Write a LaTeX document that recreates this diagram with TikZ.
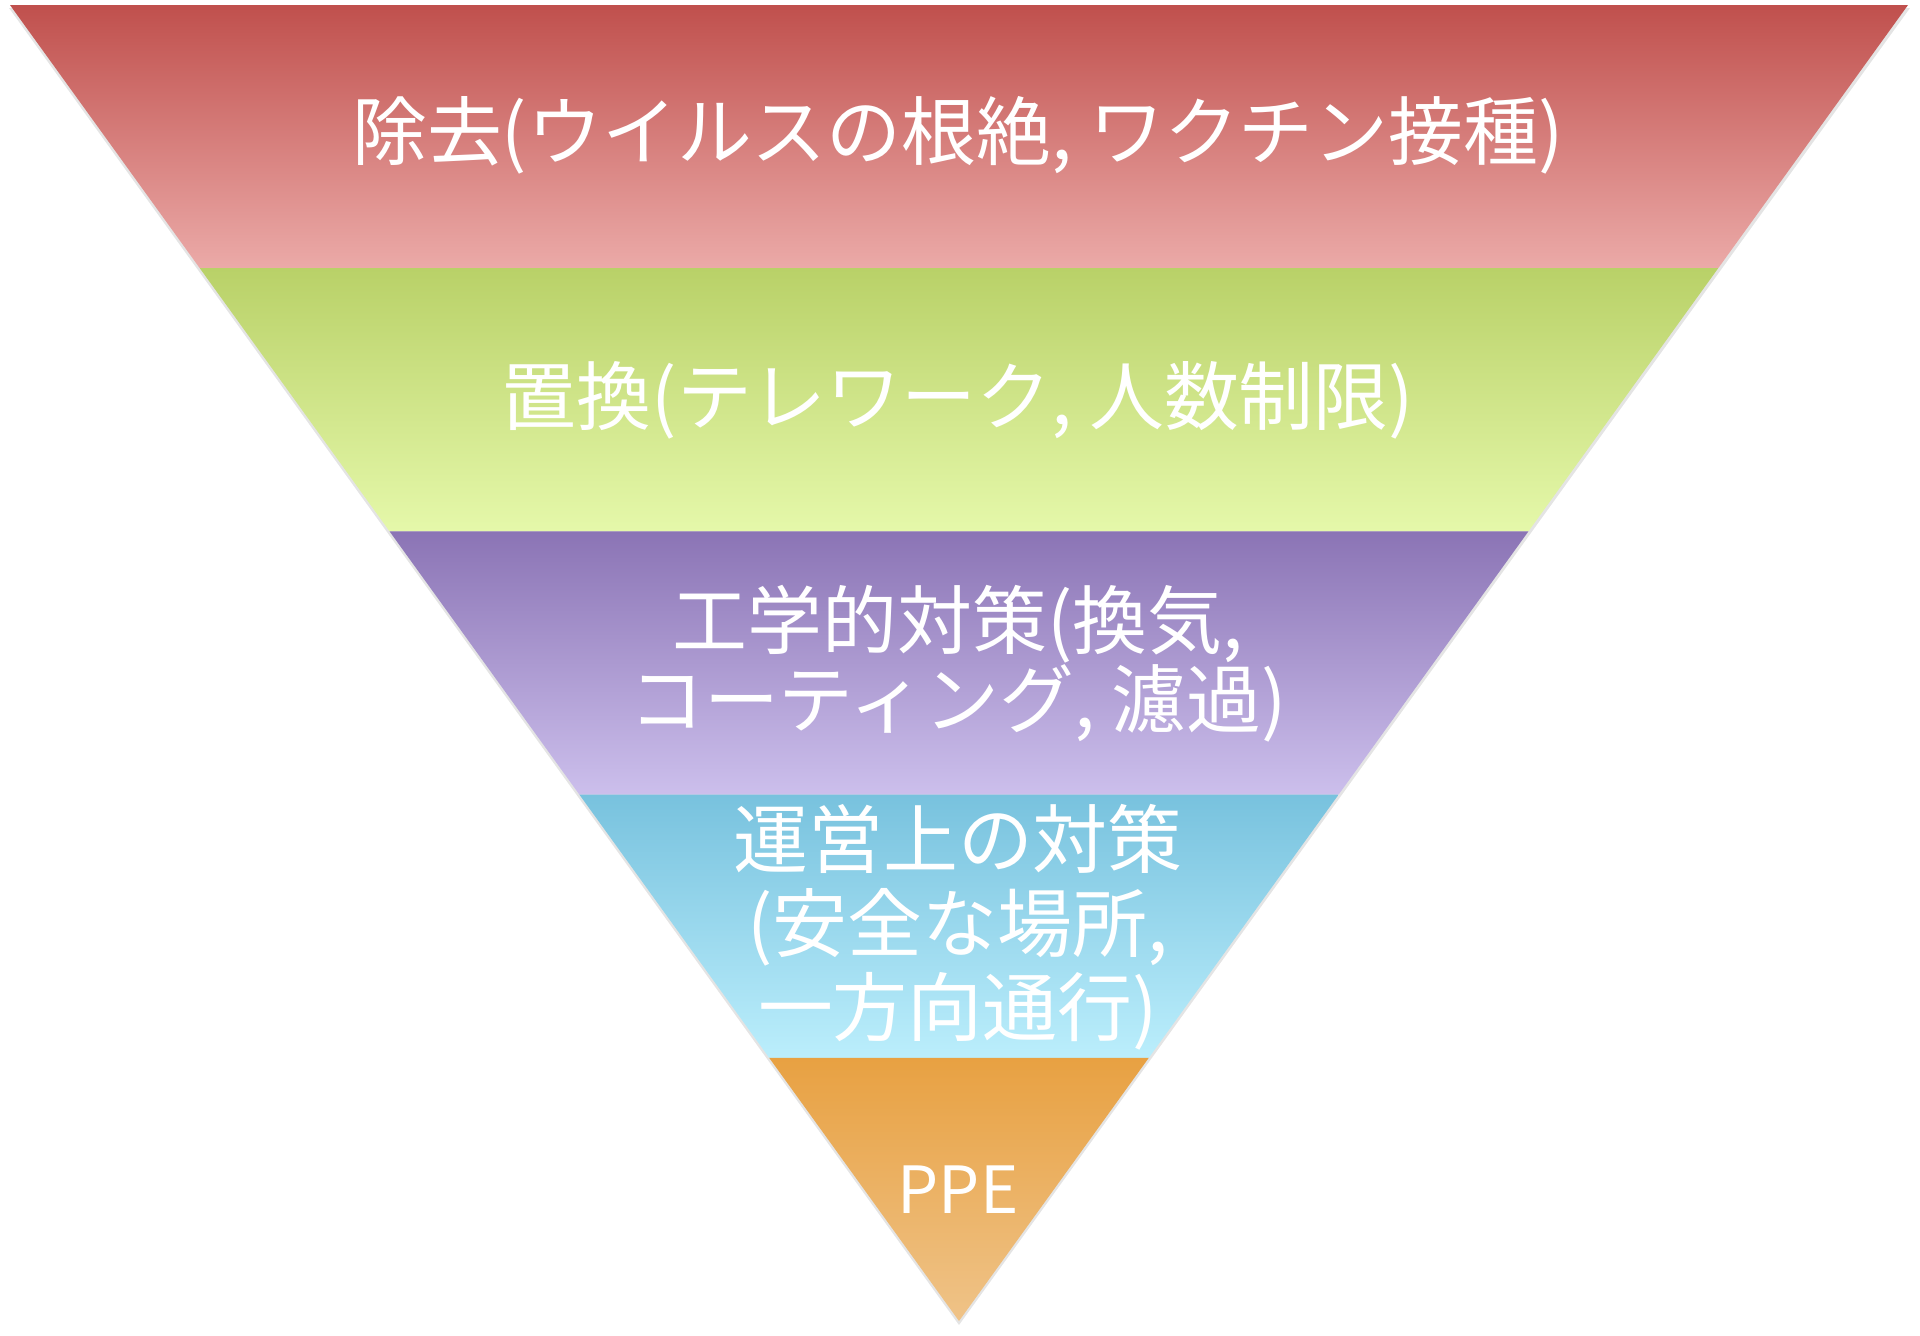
\documentclass[tikz,border=0pt]{standalone}
\usepackage{fontspec}
\setmainfont{Noto Sans CJK JP}
\usepackage{tikz}
\usetikzlibrary{calc}

\definecolor{redtop}{RGB}{192,80,77}
\definecolor{redbot}{RGB}{235,170,168}
\definecolor{greentop}{RGB}{185,209,104}
\definecolor{greenbot}{RGB}{229,248,170}
\definecolor{violettop}{RGB}{139,116,181}
\definecolor{violetbot}{RGB}{204,191,236}
\definecolor{bleutop}{RGB}{120,194,222}
\definecolor{bleubot}{RGB}{187,238,252}
\definecolor{orangetop}{RGB}{232,161,66}
\definecolor{orangebot}{RGB}{239,195,136}

\tikzset{
  bandtext/.style={text=white, align=center, font=\fontsize{21.3}{22.5}\selectfont},
}

\begin{document}
\begin{tikzpicture}[x=0.01cm, y=-0.01cm]
  % Cadre de la figure
  \useasboundingbox (0,0) rectangle (1920,1335);

  % Sommets du triangle
  \coordinate (tl) at (10,5);
  \coordinate (tr) at (1908,5);
  \coordinate (apex) at (959,1321);

  % Ombre portée
  \fill[black!30, opacity=0.35] ($(tl)+(-1,3)$) -- ($(tr)+(2,3)$) -- ($(apex)+(0,4)$) -- cycle;

  % Bandes en dégradé
  \foreach \i/\ctop/\cbot in {0/redtop/redbot, 1/greentop/greenbot, 2/violettop/violetbot, 3/bleutop/bleubot, 4/orangetop/orangebot} {
    \pgfmathsetmacro\a{\i/5}
    \pgfmathsetmacro\b{(\i+1)/5}
    \shade[top color=\ctop, bottom color=\cbot]
      ($(tl)!\a!(apex)$) -- ($(tr)!\a!(apex)$) -- ($(tr)!\b!(apex)$) -- ($(tl)!\b!(apex)$) -- cycle;
  }

  % Textes des niveaux
  \node[bandtext] (elim) at (958,135) {除去(ウイルスの根絶, ワクチン接種)};
  \node[bandtext] (subst) at (958,400) {置換(テレワーク, 人数制限)};
  \node[bandtext] (eng) at (958,664) {工学的対策(換気,\\コーティング, 濾過)};
  \node[bandtext, font=\fontsize{21.3}{23.9}\selectfont] (admin) at (958,927) {運営上の対策\\(安全な場所,\\一方向通行)};
  \node[bandtext, font=\fontsize{18.5}{20}\selectfont] (ppe) at (958,1190) {PPE};
\end{tikzpicture}
\end{document}
